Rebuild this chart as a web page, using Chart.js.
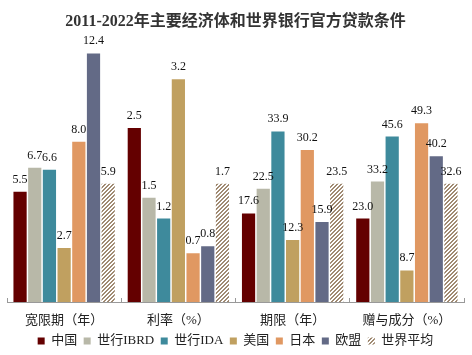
<!DOCTYPE html>
<html>
<head>
<meta charset="utf-8">
<script src="https://cdn.jsdelivr.net/npm/chart.js@4/dist/chart.umd.min.js"></script>
<style>
  html, body { margin: 0; padding: 0; background: #fff; }
  #wrap { width: 472px; height: 355px; position: relative; }
</style>
</head>
<body>
<div id="wrap"><canvas id="c"></canvas></div>
<script>
const titleText = '2011-2022年主要经济体和世界银行官方贷款条件';
const categories = ['宽限期（年）', '利率（%）', '期限（年）', '赠与成分（%）'];
const seriesNames = ['中国', '世行IBRD', '世行IDA', '美国', '日本', '欧盟', '世界平均'];
const china = [5.5, 2.5, 17.6, 23.0];
const ibrd  = [6.7, 1.5, 22.5, 33.2];
const ida   = [6.6, 1.2, 33.9, 45.6];
const usa   = [2.7, 3.2, 12.3, 8.7];
const japan = [8.0, 0.7, 30.2, 49.3];
const eu    = [12.4, 0.8, 15.9, 40.2];
const world = [5.9, 1.7, 23.5, 32.6];

const FONT = '"Liberation Serif", "Noto Sans CJK SC", serif';

function hatch() {
  const t = document.createElement('canvas');
  t.width = 4; t.height = 4;
  const g = t.getContext('2d');
  g.fillStyle = '#ffffff'; g.fillRect(0, 0, 4, 4);
  g.fillStyle = '#a08a72';
  for (let x = 0; x < 4; x++) for (let y = 0; y < 4; y++) {
    const m = (x + y) % 4;
    if (m === 0 || m === 1) g.fillRect(x, y, 1, 1);
  }
  return g.createPattern(t, 'repeat');
}

const rawSeries = [china, ibrd, ida, usa, japan, eu, world];
const colors = ['#640000', '#b8b8a8', '#3e8a9c', '#c0a060', '#e09862', '#636a86', hatch()];

// each group is shown relative to the world average of that group
const datasets = rawSeries.map((arr, i) => ({
  label: seriesNames[i],
  data: arr.map((v, j) => v / world[j]),
  raw: arr,
  backgroundColor: colors[i],
  borderWidth: 0,
  categoryPercentage: 0.9,
  barPercentage: 0.9
}));

const labelPlugin = {
  id: 'valueLabels',
  afterDatasetsDraw(chart) {
    const ctx = chart.ctx;
    ctx.save();
    ctx.font = '12px ' + FONT;
    ctx.fillStyle = '#111';
    ctx.textAlign = 'center';
    ctx.textBaseline = 'alphabetic';
    chart.data.datasets.forEach((ds, di) => {
      const meta = chart.getDatasetMeta(di);
      meta.data.forEach((bar, j) => {
        ctx.fillText(ds.raw[j].toFixed(1), bar.x, bar.y - 9);
      });
    });
    ctx.restore();
  }
};

new Chart(document.getElementById('c'), {
  type: 'bar',
  data: { labels: categories, datasets },
  plugins: [labelPlugin],
  options: {
    responsive: true,
    maintainAspectRatio: false,
    animation: false,
    layout: { padding: { left: 7, right: 8, top: 0, bottom: -2.5 } },
    plugins: {
      title: {
        display: true,
        text: titleText,
        color: '#333',
        font: { family: FONT, size: 16, weight: 'bold' },
        padding: { top: 12, bottom: 10.6 }
      },
      legend: {
        position: 'bottom',
        labels: {
          boxWidth: 7,
          boxHeight: 7,
          padding: 6.5,
          color: '#222',
          font: { family: FONT, size: 13 }
        }
      },
      tooltip: { enabled: false }
    },
    scales: {
      x: {
        grid: {
          display: true,
          offset: true,
          drawOnChartArea: false,
          drawTicks: true,
          tickLength: -4,
          color: '#999'
        },
        border: { display: true, color: '#999', width: 1 },
        ticks: {
          color: '#222',
          padding: 16.5,
          font: { family: FONT, size: 13, lineHeight: 1 }
        },
        afterFit(scale) { scale.height = 26; }
      },
      y: {
        display: false,
        min: 0,
        max: 2.2
      }
    }
  }
});
</script>
</body>
</html>
